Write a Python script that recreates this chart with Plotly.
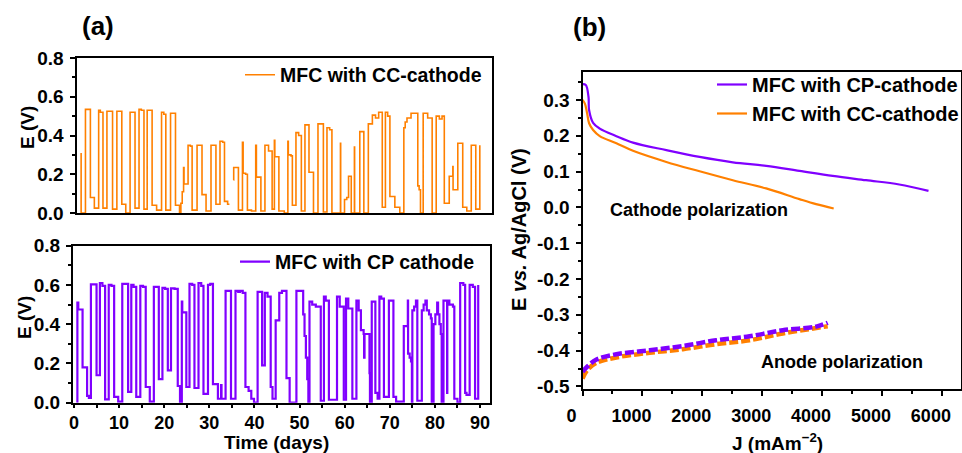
import plotly.graph_objects as go

# ---- Panel (a): cell voltage vs time; each value is held until the next time (step trace)
cc_days = [0.81, 0.81, 1.77, 2.87, 3.75, 4.71, 5.08, 5.67, 6.55, 7.80, 8.76, 9.86, 10.74, 11.70,
           12.80, 13.69, 14.20, 14.79, 15.50, 16.60, 17.60, 18.70, 19.20, 19.65, 20.70, 21.80,
           22.70, 23.00, 23.30, 23.60, 23.70, 24.60, 25.10, 25.50, 26.60, 27.70, 28.60, 29.70,
           30.80, 31.70, 32.30, 32.70, 33.40, 33.80, None,
           34.70, 34.75, 35.80, 36.70, 36.85, 37.40, 37.80, 38.70, 39.65, 39.80, 40.80, 41.70,
           42.50, 43.30, 43.80, 43.90, 44.80, 46.00, 46.80, 46.90, 47.50, 47.80, 48.60, 49.20,
           49.80, 50.60, 51.50, 52.50, 53.50, 54.70, 55.50, 56.10, 56.60, 58.50, 58.55, 59.40,
           59.90, 60.30, 60.90, 61.60, 61.65, 62.80, 63.70, 64.70, 65.60, 66.30, 67.00, 67.80,
           68.50, 69.00, 69.50, 70.60, 71.70, 72.60, 72.90, 73.30, 74.20, 75.70, 76.00, 76.30,
           76.90, 77.90, 78.90, 79.80, 80.50, 81.10, 81.60, 82.70, 83.50, 83.55, 84.60, 85.70,
           86.60, 87.60, 88.60, 89.50]
cc_volts = [0.31, 0.0, 0.535, 0.08, 0.025, 0.53, 0.52, 0.025, 0.525, 0.02, 0.525, 0.045, 0.0, 0.52,
            0.025, 0.535, 0.53, 0.02, 0.53, 0.04, 0.015, 0.52, 0.51, 0.015, 0.515, 0.04,
            0.0, 0.05, 0.11, 0.235, 0.15, 0.35, 0.345, 0.015, 0.35, 0.095, 0.01, 0.35,
            0.045, 0.37, 0.365, 0.06, 0.045, 0.045, None,
            0.17, 0.235, 0.015, 0.365, 0.205, 0.20, 0.015, 0.01, 0.35, 0.185, 0.01, 0.35,
            0.32, 0.02, 0.375, 0.29, 0.01, 0.0, 0.37, 0.30, 0.295, 0.04, 0.415, 0.40,
            0.01, 0.455, 0.21, 0.0, 0.46, 0.005, 0.44, 0.43, 0.0, 0.36, 0.0, 0.07,
            0.08, 0.19, 0.0, 0.34, 0.0, 0.42, 0.0, 0.46, 0.505, 0.49, 0.52, 0.03,
            0.52, 0.50, 0.085, 0.03, 0.0, 0.44, 0.47, 0.49, 0.515, 0.14, 0.12, 0.0,
            0.515, 0.49, 0.0, 0.50, 0.485, 0.50, 0.05, 0.19, 0.24, 0.12, 0.36, 0.03,
            0.01, 0.35, 0.02, 0.35]

cp_days = [0.75, 0.75, 0.95, 1.9, 2.9, 3.3, 3.75, 5.0, 5.74, 6.3, 6.9, 7.7, 8.3, 8.9, 9.8, 10.7,
           12.0, 12.7, 13.2, 13.8, 14.7, 15.3, 15.9, 16.8, 17.7, 18.8, 19.6, 20.2, 20.8, 21.5,
           22.3, 23.0, 23.5, 23.9, 24.0, 24.9, 25.6, 26.2, 26.7, 27.6, 28.2, 28.7, 29.7, 30.2,
           30.8, 31.9, 32.6, 32.7, 33.6, 34.8, 35.8, 36.4, 36.8, 37.4, 38.0, 38.7, 39.3, 39.9,
           40.7, 41.7, 42.3, 42.9, 43.6, 44.0, 44.7, 45.5, 46.1, 47.1, 47.8, 49.3, 50.8, 51.1,
           51.4, 51.7, 51.95, 52.2, 52.8, 53.6, 54.7, 55.4, 55.8, 56.5, 58.3, 58.9, 59.8, 60.3,
           60.8, 61.7, 62.6, 63.1, 63.6, 64.2, 64.3, 64.4, 65.5, 65.6, 66.0, 66.8, 67.3, 67.7,
           68.1, 68.7, 69.8, 70.8, 71.4, 73.1, 74.0, 74.05, 74.4, 74.7, 74.9, 75.0, 75.4, 75.8,
           76.1, 77.1, 77.5, 77.9, 78.2, 78.7, 79.1, 79.3, 79.7, 80.1, 80.5, 80.7, 81.0, 81.3,
           81.5, 81.9, 82.7, 82.75, 83.2, 84.0, 84.3, 85.0, 85.6, 86.3, 86.7, 87.0, 87.7, 88.4,
           88.9, 89.6]
cp_volts = [0.0, 0.51, 0.475, 0.18, 0.035, 0.025, 0.603, 0.14, 0.61, 0.595, 0.017, 0.60, 0.595, 0.03, 0.005, 0.605,
            0.055, 0.60, 0.59, 0.03, 0.595, 0.59, 0.08, 0.005, 0.59, 0.12, 0.585, 0.58, 0.165, 0.583,
            0.58, 0.085, 0.0, 0.515, 0.46, 0.08, 0.605, 0.60, 0.075, 0.61, 0.595, 0.045, 0.60, 0.605,
            0.095, 0.02, 0.09, 0.02, 0.57, 0.02, 0.57, 0.565, 0.57, 0.56, 0.08, 0.06, 0.02, 0.0,
            0.565, 0.19, 0.56, 0.54, 0.08, 0.02, 0.42, 0.56, 0.57, 0.125, 0.0, 0.57, 0.45, 0.34,
            0.23, 0.12, 0.0, 0.515, 0.50, 0.49, 0.01, 0.54, 0.52, 0.015, 0.54, 0.49, 0.015, 0.53,
            0.48, 0.02, 0.52, 0.47, 0.37, 0.35, 0.23, 0.35, 0.15, 0.0, 0.515, 0.05, 0.02, 0.54,
            0.53, 0.03, 0.52, 0.03, 0.005, 0.39, 0.52, 0.25, 0.23, 0.21, 0.0, 0.47, 0.49, 0.52,
            0.01, 0.47, 0.50, 0.52, 0.47, 0.45, 0.43, 0.0, 0.40, 0.45, 0.51, 0.45, 0.40, 0.35,
            0.0, 0.52, 0.05, 0.52, 0.50, 0.49, 0.02, 0.0, 0.61, 0.60, 0.05, 0.04, 0.60, 0.59,
            0.02, 0.60]

# ---- Panel (b): electrode polarization, current density (mA m-2) vs potential (V vs Ag/AgCl)
j_cp_cathode = [0, 55, 100, 110, 177, 288, 566, 843, 1400, 1955, 2510, 3067, 3622, 4178, 4733, 5288, 5777]
e_cp_cathode = [0.344, 0.342, 0.309, 0.272, 0.236, 0.220, 0.199, 0.181, 0.160, 0.141, 0.126, 0.116,
                0.102, 0.088, 0.076, 0.064, 0.046]
j_cc_cathode = [0, 40, 77, 110, 177, 288, 566, 843, 1400, 1955, 2510, 3067, 3622, 3900, 4194]
e_cc_cathode = [0.300, 0.290, 0.263, 0.235, 0.216, 0.199, 0.179, 0.158, 0.127, 0.101, 0.076, 0.053,
                0.023, 0.009, -0.003]
j_cp_anode = [0, 77, 233, 566, 1122, 1677, 2233, 2788, 3344, 3900, 4094]
e_cp_anode = [-0.459, -0.445, -0.425, -0.410, -0.399, -0.387, -0.371, -0.360, -0.343, -0.333, -0.322]
j_cc_anode = [0, 77, 233, 566, 1122, 1677, 2233, 2788, 3344, 4094]
e_cc_anode = [-0.478, -0.455, -0.434, -0.419, -0.406, -0.396, -0.382, -0.371, -0.352, -0.332]

a_ytick_vals = [0.0, 0.2, 0.4, 0.6, 0.8]
a_ytick_text = ["0.0", "0.2", "0.4", "0.6", "0.8"]
b_ytick_vals = [0.3, 0.2, 0.1, 0.0, -0.1, -0.2, -0.3, -0.4, -0.5]
b_ytick_text = ["0.3", "0.2", "0.1", "0.0", "-0.1", "-0.2", "-0.3", "-0.4", "-0.5"]

ORANGE = "#FF8000"
PURPLE = "#8000FF"
FONT = "Liberation Sans, Arial, sans-serif"
W, H = 962, 453


def px_x(p):
    return p / W


def px_y(p):
    return 1 - p / H


def bold(size):
    return dict(family=FONT, size=size, color="black", weight="bold")


fig = go.Figure()

fig.add_trace(go.Scatter(x=cc_days, y=cc_volts, mode="lines", line=dict(color=ORANGE, width=1.6, shape="hv"),
                         name="MFC with CC-cathode", xaxis="x", yaxis="y", legend="legend"))
fig.add_trace(go.Scatter(x=cp_days, y=cp_volts, mode="lines", line=dict(color=PURPLE, width=2.2, shape="hv"),
                         name="MFC with CP cathode", xaxis="x2", yaxis="y2", legend="legend2"))

fig.add_trace(go.Scatter(x=j_cp_cathode, y=e_cp_cathode, mode="lines", line=dict(color=PURPLE, width=2.2, shape="spline"),
                         name="MFC with CP-cathode", xaxis="x3", yaxis="y3", legend="legend3"))
fig.add_trace(go.Scatter(x=j_cc_cathode, y=e_cc_cathode, mode="lines", line=dict(color=ORANGE, width=2.2, shape="spline"),
                         name="MFC with CC-cathode", xaxis="x3", yaxis="y3", legend="legend3"))
fig.add_trace(go.Scatter(x=j_cc_anode, y=e_cc_anode, mode="lines",
                         line=dict(color=ORANGE, width=4.5, dash="9px,3px", shape="spline"),
                         showlegend=False, xaxis="x3", yaxis="y3"))
fig.add_trace(go.Scatter(x=j_cp_anode, y=e_cp_anode, mode="lines",
                         line=dict(color=PURPLE, width=4.5, dash="9px,3px", shape="spline"),
                         showlegend=False, xaxis="x3", yaxis="y3"))

axis_common = dict(showline=True, linecolor="black", linewidth=2, mirror=True, showgrid=False,
                   zeroline=False, ticks="outside", ticklen=5, tickwidth=1.5, tickcolor="black",
                   tickfont=bold(18))
minor_x = dict(dtick=5, ticks="outside", ticklen=3, tickcolor="black")

fig.update_layout(
    width=W, height=H, margin=dict(l=0, r=0, t=0, b=0, autoexpand=False),
    paper_bgcolor="white", plot_bgcolor="white",
    font=dict(family=FONT, color="black", weight="bold"),
    xaxis=dict(axis_common, domain=[px_x(76.5), px_x(491.5)], anchor="y", range=[-0.22, 92.1],
               ticks="", showticklabels=False),
    yaxis=dict(axis_common, domain=[px_y(213), px_y(58)], anchor="x", range=[0, 0.8],
               tickvals=a_ytick_vals, ticktext=a_ytick_text, ticklabelstandoff=2, tickfont=bold(19),
               minor=dict(dtick=0.1, ticks="outside", ticklen=3, tickcolor="black")),
    xaxis2=dict(axis_common, domain=[px_x(73), px_x(489.5)], anchor="y2", range=[-0.22, 92.1],
                dtick=10, ticklen=3, minor=minor_x),
    yaxis2=dict(axis_common, domain=[px_y(402.7), px_y(245.7)], anchor="x2", range=[0, 0.8],
                tickvals=a_ytick_vals, ticktext=a_ytick_text, ticklabelstandoff=2, tickfont=bold(19),
                minor=dict(dtick=0.1, ticks="outside", ticklen=3, tickcolor="black")),
    xaxis3=dict(axis_common, domain=[px_x(582.5), 0.999], anchor="y3", range=[0, 6320],
                dtick=1000, ticklabelshift=-11, ticklabelstandoff=4,
                minor=dict(dtick=500, ticks="outside", ticklen=3, tickcolor="black")),
    yaxis3=dict(axis_common, domain=[px_y(389.3), px_y(71.7)], anchor="x3", range=[-0.508, 0.379],
                tickvals=b_ytick_vals, ticktext=b_ytick_text, ticklabelstandoff=2, tickfont=bold(19),
                minor=dict(dtick=0.05, ticks="outside", ticklen=3, tickcolor="black")),
    legend=dict(x=px_x(240), y=px_y(75), xanchor="left", yanchor="middle", bgcolor="rgba(0,0,0,0)",
                font=bold(19.5)),
    legend2=dict(x=px_x(235), y=px_y(262), xanchor="left", yanchor="middle", bgcolor="rgba(0,0,0,0)",
                 font=bold(19.5)),
    legend3=dict(x=px_x(712), y=px_y(99), xanchor="left", yanchor="middle", bgcolor="rgba(0,0,0,0)",
                 font=bold(20), tracegroupgap=0),
)

annotations = [
    dict(text="(a)", x=px_x(98), y=px_y(26), font=bold(26)),
    dict(text="(b)", x=px_x(589), y=px_y(27), font=bold(26)),
    dict(text="E (V)", x=px_x(27), y=px_y(128), textangle=-90, font=bold(19)),
    dict(text="E (V)", x=px_x(24), y=px_y(318), textangle=-90, font=bold(19)),
    dict(text="Time (days)", x=px_x(276), y=px_y(442), font=bold(19)),
    dict(text="E <i>vs.</i> Ag/AgCl (V)", x=px_x(519), y=px_y(230), textangle=-90, font=bold(20)),
    dict(text="J (mAm<sup>\u22122</sup>)", x=px_x(777), y=px_y(442), font=bold(19)),
    dict(text="Cathode polarization", x=px_x(699), y=px_y(210), font=bold(18)),
    dict(text="Anode polarization", x=px_x(842), y=px_y(362), font=bold(18)),
]
for a in annotations:
    a.update(xref="paper", yref="paper", showarrow=False, xanchor="center", yanchor="middle")
fig.update_layout(annotations=annotations)

fig.write_html("out.html")
